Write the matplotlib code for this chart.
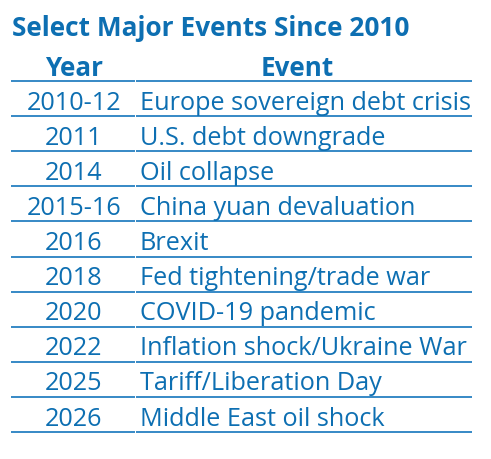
import matplotlib
matplotlib.use("Agg")
import matplotlib.pyplot as plt

title = "Select Major Events Since 2010"
headers = ["Year", "Event"]
years = ["2010-12", "2011", "2014", "2015-16", "2016", "2018", "2020", "2022", "2025", "2026"]
events = ["Europe sovereign debt crisis", "U.S. debt downgrade", "Oil collapse",
          "China yuan devaluation", "Brexit", "Fed tightening/trade war",
          "COVID-19 pandemic", "Inflation shock/Ukraine War",
          "Tariff/Liberation Day", "Middle East oil shock"]

FAMILY = "Open Sans"
TEXT_C = "#0d6fb2"
LINE_C = "#2680c2"

W, H = 491, 459
fig = plt.figure(figsize=(W / 100, H / 100), dpi=100)
ax = fig.add_axes([0, 0, 1, 1])
ax.set_xlim(0, W)
ax.set_ylim(H, 0)
ax.axis("off")

px = 0.72  # points per pixel at 100 dpi
TITLE_PX = 26.2
HEAD_PX = 26.0
ROW_PX = 25.3

ax.text(12, 36, title, family=FAMILY, weight="bold", fontsize=TITLE_PX * px,
        color=TEXT_C, ha="left", va="baseline")

header_line = 81
row_h = 35.1
x_year = 74
x_event = 140
ax.text(x_year, 76, headers[0], family=FAMILY, weight="bold", fontsize=HEAD_PX * px,
        color=TEXT_C, ha="center", va="baseline")
ax.text(297, 76, headers[1], family=FAMILY, weight="bold", fontsize=HEAD_PX * px,
        color=TEXT_C, ha="center", va="baseline")

lines_y = [header_line + i * row_h for i in range(len(years) + 1)]
for y in lines_y:
    ax.plot([11, 135.5], [y, y], color=LINE_C, lw=1.3, solid_capstyle="butt")
    ax.plot([136.5, 472], [y, y], color=LINE_C, lw=1.3, solid_capstyle="butt")

for i, (yr, ev) in enumerate(zip(years, events)):
    base = lines_y[i + 1] - 6.5
    ax.text(x_year, base, yr, family=FAMILY, fontsize=ROW_PX * px, color=TEXT_C,
            ha="center", va="baseline")
    ax.text(x_event, base, ev, family=FAMILY, fontsize=ROW_PX * px, color=TEXT_C,
            ha="left", va="baseline")

fig.savefig("out.png", dpi=100, facecolor="white")
